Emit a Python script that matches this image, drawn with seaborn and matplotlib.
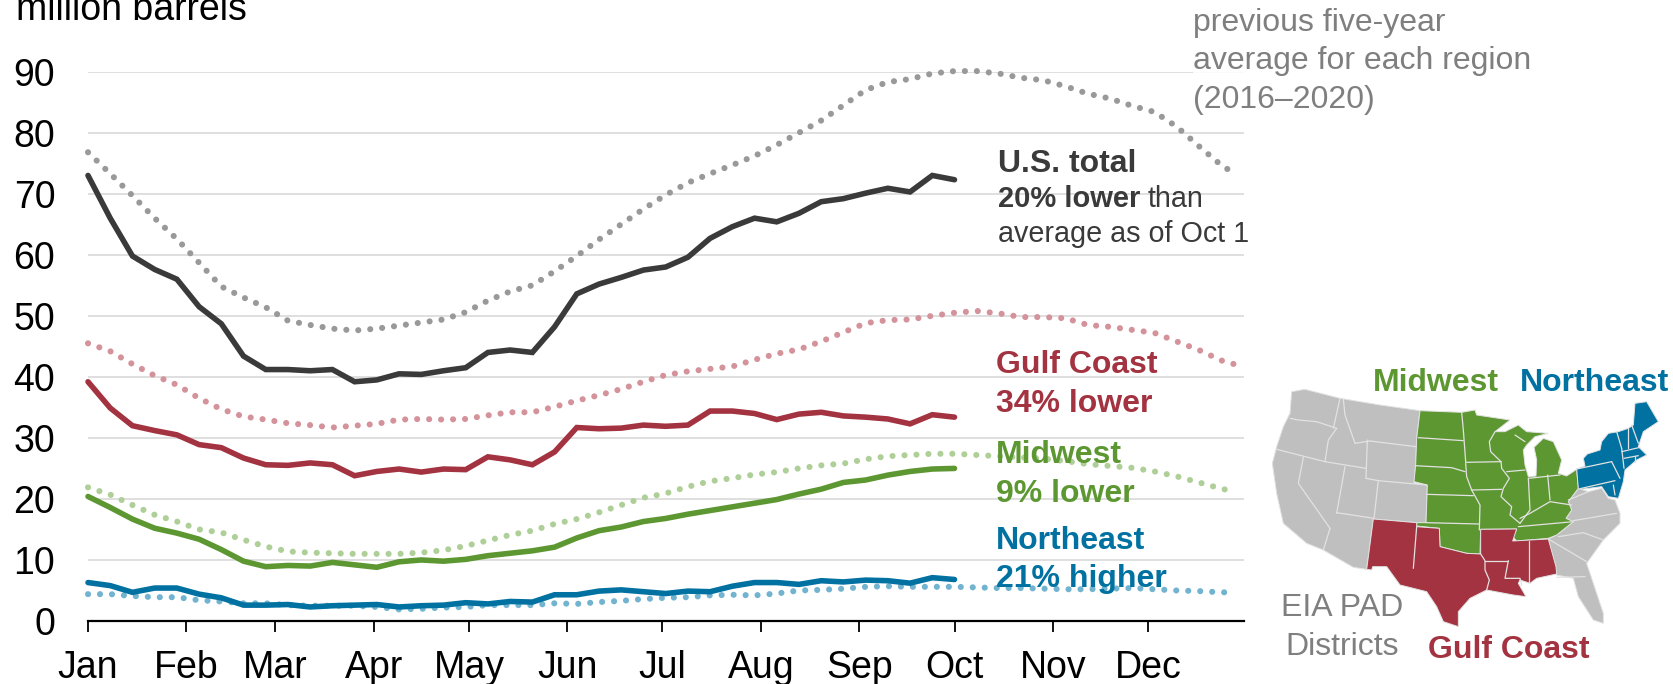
import pandas as pd
import numpy as np
import matplotlib
matplotlib.use('Agg')
import matplotlib.pyplot as plt
import matplotlib.dates as mdates
from matplotlib.patches import Polygon
import seaborn as sns

# --- Data, million barrels ---
months = ['Jan', 'Feb', 'Mar', 'Apr', 'May', 'Jun', 'Jul', 'Aug', 'Sep', 'Oct', 'Nov', 'Dec']
y_ticks = [0, 10, 20, 30, 40, 50, 60, 70, 80, 90]

total = [73, 66, 59.8, 57.6, 56, 51.5, 48.7, 43.4, 41.2, 41.2, 41, 41.2, 39.2, 39.5, 40.5, 40.4, 41, 41.5, 44, 44.4,
         44, 48.2, 53.6, 55.2, 56.3, 57.5, 58, 59.6, 62.7, 64.6, 66, 65.4, 66.8, 68.7, 69.2, 70.1, 70.9, 70.3, 73, 72.3]
gulf = [39.2, 34.9, 32, 31.2, 30.5, 28.9, 28.4, 26.7, 25.6, 25.5, 25.9, 25.6, 23.8, 24.5, 24.9, 24.4, 24.9, 24.8, 26.9, 26.4,
        25.6, 27.7, 31.7, 31.5, 31.6, 32.1, 31.9, 32.1, 34.4, 34.4, 34, 33, 33.9, 34.2, 33.6, 33.4, 33.1, 32.3, 33.8, 33.4]
midwest = [20.4, 18.6, 16.7, 15.2, 14.4, 13.4, 11.7, 9.8, 8.9, 9.1, 9, 9.6, 9.2, 8.8, 9.7, 10, 9.8, 10.1, 10.7, 11.1,
           11.5, 12.1, 13.6, 14.8, 15.4, 16.3, 16.8, 17.5, 18.1, 18.7, 19.3, 19.9, 20.8, 21.6, 22.7, 23.1, 23.9, 24.5, 24.9, 25]
northeast = [6.3, 5.8, 4.7, 5.4, 5.4, 4.4, 3.8, 2.6, 2.6, 2.7, 2.3, 2.5, 2.6, 2.7, 2.3, 2.5, 2.6, 3, 2.8, 3.2,
             3.1, 4.3, 4.3, 4.9, 5.1, 4.8, 4.5, 4.9, 4.8, 5.7, 6.3, 6.3, 6, 6.6, 6.4, 6.7, 6.6, 6.2, 7.1, 6.8]

total_avg = [76.8, 73.3, 69.7, 66, 62.6, 58.7, 54.8, 53, 51.4, 49.2, 48.5, 47.9, 47.6, 47.9, 48.4, 48.9, 49.4, 50.6, 52.5, 54,
             55, 57.3, 59.8, 62.5, 65, 67.5, 69.8, 71.8, 73.3, 74.7, 76.2, 78, 80, 82, 84.5, 87, 88.3, 88.8, 89.7, 90.1,
             90.1, 89.7, 89, 88.6, 87.6, 86.4, 85.6, 84.4, 83.4, 81, 77.8, 74.7, 73.4]
gulf_avg = [45.5, 44.2, 42.1, 40.2, 38.7, 36.5, 34.7, 33.5, 33, 32.4, 32.1, 31.7, 32, 32.3, 33, 33.1, 33, 33.1, 33.7, 34.2,
            34.2, 35.1, 36.1, 37, 38, 39.2, 40.3, 40.9, 41.3, 41.7, 42.8, 43.8, 44.5, 45.8, 47.3, 48.8, 49.3, 49.4, 50, 50.5,
            50.8, 50.4, 49.8, 49.8, 49.6, 48.5, 48.2, 47.7, 47.2, 45.8, 44.4, 42.7, 42.1]
midwest_avg = [21.9, 20.7, 19, 17.4, 16.3, 15, 14.5, 13.3, 12.2, 11.4, 11.2, 11.1, 11, 11, 11, 11.2, 11.6, 12.3, 13.2, 14.1,
               14.8, 15.9, 16.7, 17.8, 19, 20.2, 20.9, 22, 22.9, 23.4, 24, 24.4, 25, 25.5, 25.8, 26.5, 27, 27.2, 27.4, 27.4,
               27.2, 27, 26.8, 26.6, 26.2, 25.7, 25.4, 25.1, 24.5, 23.7, 22.7, 21.7, 21.2]
northeast_avg = [4.4, 4.4, 4.1, 3.9, 3.9, 3.4, 3.2, 2.9, 2.9, 2.6, 2.5, 2.5, 2.5, 2.3, 1.9, 2, 2.2, 2.3, 2.6, 2.6,
                 2.6, 2.9, 2.8, 3.1, 3.3, 3.6, 3.8, 3.9, 4.2, 4.3, 4.2, 4.5, 5, 5.1, 5.3, 5.6, 5.7, 5.6, 5.6, 5.6,
                 5.5, 5.4, 5.4, 5.3, 5.2, 5.2, 5.3, 5.4, 5.2, 5, 4.9, 4.7, 4.7]

weeks = pd.date_range('2021-01-01', periods=40, freq='7D')
# average curve runs a little short of the year end
avg_weeks = pd.date_range('2021-01-01', periods=52, freq='7D').append(pd.DatetimeIndex(['2021-12-28']))

# --- Colors ---
BLACK = '#3A3A3A'
RED = '#A33340'
GREEN = '#5D9732'
BLUE = '#0071A1'
GREY_TXT = '#7F7F7F'
MAP_GREY = '#BFBFBF'
MAP_LINE = '#E2E2E2'

# --- Inset map outlines, traced in the inset's own pixel frame ---
west = [(155,125),(195,118),(300,145),(420,165),(540,182),(530,265),(527,345),(522,400),(562,405),(558,518),(530,518),
        (400,507),(380,658),(340,652),(250,600),(200,580),(130,520),(110,430),(97,340),(110,290),(130,230),(150,190)]
southeast = [(985,455),(1015,415),(1045,425),(1085,415),(1105,445),(1125,450),(1140,490),(1140,520),(1090,570),(1040,640),
             (1090,790),(1090,820),(1060,810),(1015,740),(1000,685),(950,675),(925,567),(950,555),(1000,515),(978,505),(995,480)]
midwest_map = [(540,182),(665,187),(705,180),(710,195),(810,210),(765,245),(795,245),(835,225),(860,245),(925,250),(885,260),
               (860,285),(850,300),(855,345),(865,380),(888,378),(890,330),(882,292),(910,265),(940,275),(965,330),(955,370),
               (980,378),(1010,358),(1015,415),(985,455),(995,480),(978,505),(1000,515),(950,555),(925,565),(830,573),
               (818,560),(830,537),(722,538),(720,612),(680,610),(600,590),(598,535),(530,528),(530,518),(558,518),(562,405),
               (522,395),(527,345),(530,265)]
gulf_map = [(400,507),(530,518),(530,530),(598,535),(600,590),(680,610),(722,612),(722,538),(830,537),(818,573),(925,567),
            (948,650),(950,672),(890,685),(870,700),(840,690),(835,700),(858,740),(820,735),(740,720),(690,745),(655,785),
            (655,830),(610,815),(590,770),(560,725),(520,715),(480,705),(440,650),(398,650),(395,660),(380,658)]
northeast_map = [(1010,357),(1035,348),(1030,325),(1042,312),(1080,300),(1085,275),(1105,250),(1135,245),(1165,235),(1180,225),
                 (1185,160),(1220,155),(1255,215),(1210,245),(1195,290),(1220,315),(1190,330),(1155,360),(1150,395),(1135,445),
                 (1105,440),(1085,410),(1045,415),(1020,418),(1015,415)]
borders = [
    # west
    [(150,205),(175,210),(230,215),(290,235)], [(300,145),(280,235)], [(110,298),(255,335)], [(290,235),(265,270),(255,335)],
    [(310,148),(315,195),(345,280),(390,273)], [(390,273),(528,290)], [(382,270),(378,385)], [(315,350),(290,490)],
    [(255,335),(378,355)], [(190,322),(175,400),(270,535)], [(378,385),(415,392)], [(415,392),(560,405)], [(415,392),(402,505)],
    [(290,488),(402,505)], [(270,535),(250,600)],
    # midwest
    [(535,263),(670,272)], [(525,347),(635,353),(675,365)], [(665,187),(670,240),(677,335)], [(677,337),(783,335)],
    [(677,340),(680,380),(695,420)], [(695,420),(785,418)],
    [(783,335),(785,355),(808,385),(790,415),(783,440),(815,470),(810,495),(840,520)],
    [(560,433),(700,437)], [(695,420),(720,465),(718,540)], [(765,245),(748,275),(752,305),(783,335)],
    [(800,365),(855,360)], [(825,255),(855,275)], [(865,385),(870,480),(840,520)], [(923,375),(930,450)], [(865,385),(960,375)],
    [(840,505),(870,490),(930,455),(995,465)], [(835,530),(1000,515)], [(558,518),(718,522)],
    # gulf
    [(530,530),(520,655)], [(722,612),(735,632),(735,660),(748,690),(740,720)], [(735,632),(805,632)],
    [(805,632),(795,685),(840,685),(845,705)], [(868,572),(868,700)],
    # northeast
    [(1010,357),(1115,335)], [(1115,335),(1125,355),(1140,385)], [(1020,416),(1125,392)], [(1130,245),(1145,295)],
    [(1165,235),(1165,295)], [(1175,225),(1195,280)], [(1145,305),(1200,292)], [(1152,325),(1195,317)], [(1145,295),(1152,355)],
    [(1185,317),(1185,335)], [(1120,405),(1125,435)],
    # southeast
    [(1000,512),(1130,490)], [(985,450),(1045,425)], [(955,560),(1030,548),(1090,570)], [(925,567),(1040,635)], [(950,682),(1035,680)],
]

# --- Layout: pixel frame of the reference ---
W, H = 1673, 684
LEFT, RIGHT, TOP, BOTTOM = 88, 1244, 71.7, 621

sns.set_theme(style='white')
plt.rcParams['font.family'] = ['Liberation Sans', 'DejaVu Sans']

fig = plt.figure(figsize=(W / 100, H / 100), dpi=100)
ax = fig.add_axes([LEFT / W, 1 - BOTTOM / H, (RIGHT - LEFT) / W, (BOTTOM - TOP) / H])

# --- Average curves (dotted) ---
dots = (0, (0.01, 1.95))
for vals, col in [(total_avg, '#999999'), (gulf_avg, '#D4929B'), (midwest_avg, '#AFCF98'), (northeast_avg, '#72B3D0')]:
    sns.lineplot(x=avg_weeks, y=vals, color=col, lw=4.4, linestyle=dots, dash_capstyle='round',
                 errorbar=None, ax=ax, clip_on=False, zorder=3)

# --- 2021 curves (solid) ---
for vals, col in [(total, BLACK), (gulf, RED), (midwest, GREEN), (northeast, BLUE)]:
    sns.lineplot(x=weeks, y=vals, color=col, lw=4, solid_capstyle='round', solid_joinstyle='miter',
                 errorbar=None, ax=ax, clip_on=False, zorder=4)

ax.set_xlim(pd.Timestamp('2021-01-01'), pd.Timestamp('2021-12-31 05:00'))
ax.set_ylim(0, 90)
ax.set_xlabel('')
ax.set_ylabel('')
ax.set_yticks(y_ticks)
ax.xaxis.set_major_locator(mdates.MonthLocator())
ax.set_xticklabels(months)
ax.grid(axis='y', color='#D9D9D9', lw=1.2)
ax.grid(axis='x', visible=False)
ax.set_axisbelow(True)
for side in ['top', 'left', 'right']:
    ax.spines[side].set_visible(False)
ax.spines['bottom'].set_color('black')
ax.spines['bottom'].set_linewidth(1.6)
ax.spines['bottom'].set_zorder(5)
ax.tick_params(axis='x', length=8, width=1.3, color='black', pad=13, labelsize=27, labelcolor='black', bottom=True)
ax.tick_params(axis='y', length=0, pad=23.5, labelsize=27, labelcolor='black')


def put(x, y, s, **kw):
    # x, y = pixel position of the text baseline in the reference
    kw.setdefault('fontsize', 23)
    return fig.text(x / W, 1 - y / H, s, va='baseline', zorder=6, **kw)


# --- Annotations ---
put(16, 20, 'million barrels', color='black', fontsize=27)
put(1193, 31, 'previous five-year', color=GREY_TXT)
put(1193, 69, 'average for each region', color=GREY_TXT,
    bbox=dict(facecolor='white', edgecolor='none', alpha=0.85, pad=0))
put(1193, 108, '(2016\u20132020)', color=GREY_TXT)

put(998, 172, 'U.S. total', color=BLACK, fontweight='bold')
lower = put(998, 207, '20% lower', color=BLACK, fontweight='bold', fontsize=21)
fig.canvas.draw()
box = lower.get_window_extent()
put(box.x1 + 7, 207, 'than', color=BLACK, fontsize=20.7)
put(998, 242, 'average as of Oct 1', color=BLACK, fontsize=20.7)

put(996, 373, 'Gulf Coast', color=RED, fontweight='bold')
put(996, 412, '34% lower', color=RED, fontweight='bold')
put(996, 463, 'Midwest', color=GREEN, fontweight='bold')
put(996, 502, '9% lower', color=GREEN, fontweight='bold')
put(996, 549, 'Northeast', color=BLUE, fontweight='bold')
put(996, 587, '21% higher', color=BLUE, fontweight='bold')

# --- Inset map ---
ax_map = fig.add_axes([1240 / W, 0, 433 / W, 334 / H])
ax_map.set_xlim(0, 1299)
ax_map.set_ylim(1002, 0)
ax_map.axis('off')
for shape, col in [(west, MAP_GREY), (southeast, MAP_GREY), (midwest_map, GREEN), (gulf_map, RED), (northeast_map, BLUE)]:
    ax_map.add_patch(Polygon(shape, closed=True, facecolor=col, edgecolor=MAP_LINE, lw=0.7))
for line in borders:
    xs, ys = zip(*line)
    ax_map.plot(xs, ys, color=MAP_LINE, lw=0.9)

put(1373, 391, 'Midwest', color=GREEN, fontweight='bold')
put(1520, 391, 'Northeast', color=BLUE, fontweight='bold')
put(1428, 658, 'Gulf Coast', color=RED, fontweight='bold')
put(1342, 616, 'EIA PAD', color=GREY_TXT, ha='center')
put(1342, 655, 'Districts', color=GREY_TXT, ha='center')

fig.savefig('out.png', dpi=100, facecolor='white')
plt.close(fig)
